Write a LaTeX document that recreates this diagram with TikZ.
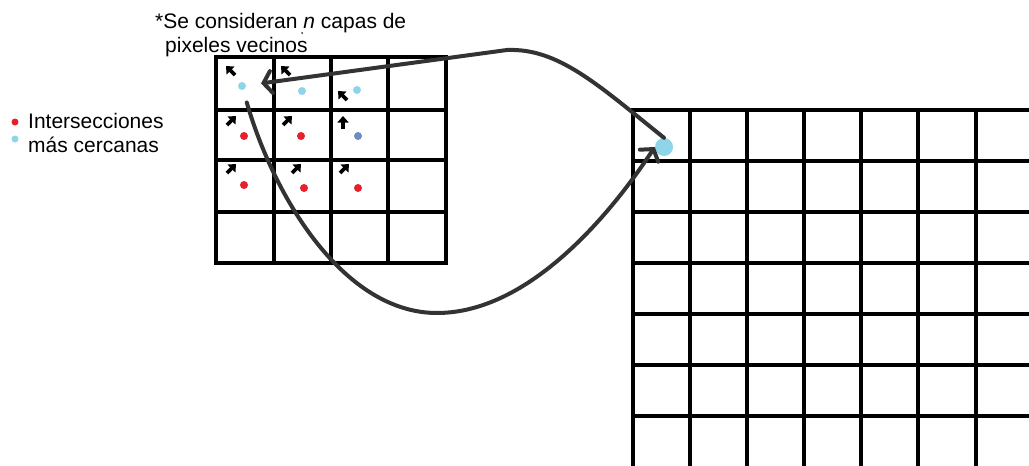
\documentclass[tikz,border=0pt]{standalone}
\usepackage{fontspec}
\setmainfont{Liberation Sans}
\usetikzlibrary{arrows.meta}
\definecolor{dotred}{HTML}{E8202A}
\definecolor{dotcyan}{HTML}{8ED5EA}
\definecolor{dotblue}{HTML}{6B8DC2}
\definecolor{curvegray}{HTML}{333333}
\begin{document}
\begin{tikzpicture}[x=1pt,y=-1pt,
  gridline/.style={line width=4.2pt, line cap=rect},
  curve/.style={draw=curvegray, line width=4pt, line cap=round},
  barbtip/.style={-{Straight Barb[length=8pt,width=22pt,line cap=round]}},
  minarr/.style={line width=3.6pt, -{Triangle[length=6.5pt,width=11pt]}},
  dot/.style={circle, inner sep=0pt, minimum size=8pt},
  lbl/.style={inner sep=0pt, anchor=base west, font=\fontsize{21}{25}\selectfont}]
\useasboundingbox (0,0) rectangle (1029,466);

% left grid
\foreach \x in {216,274,331,388,446} \draw[gridline] (\x,57) -- (\x,263);
\foreach \y in {57,110,160,212,263} \draw[gridline] (216,\y) -- (446,\y);

% right grid
\foreach \x in {633,690,747,804,861,918,976} \draw[gridline] (\x,110) -- (\x,472);
\foreach \y in {110,161,212,263,314,365,416} \draw[gridline] (633,\y) -- (1035,\y);

% dots in left grid
\node[dot, fill=dotcyan] (c00) at (242,86) {};
\node[dot, fill=dotcyan] (c01) at (302,91) {};
\node[dot, fill=dotcyan] (c02) at (357,90) {};
\node[dot, fill=dotred] (r10) at (244,136) {};
\node[dot, fill=dotred] (r11) at (301,136) {};
\node[dot, fill=dotblue] (b12) at (358,136) {};
\node[dot, fill=dotred] (r20) at (244,185) {};
\node[dot, fill=dotred] (r21) at (304,188) {};
\node[dot, fill=dotred] (r22) at (358,188) {};

% small direction arrows
\draw[minarr] (235,75) -- (226,66);
\draw[minarr] (290,75) -- (281,66);
\draw[minarr] (347,100) -- (338,91);
\draw[minarr] (227,125) -- (236,116);
\draw[minarr] (283,125) -- (292,116);
\draw[minarr] (343,129) -- (343,116);
\draw[minarr] (227,173) -- (236,164);
\draw[minarr] (292,173) -- (301,164);
\draw[minarr] (340,173) -- (349,164);

% blob in right grid
\node[circle, fill=dotcyan, inner sep=0pt, minimum width=18pt] (blob) at (664,147) {};

% curves
\draw[curve, barbtip, shorten >=15pt] (blob.north) .. controls (597,84) and (558,48) .. (507,50) -- (c00);
\draw[curve, barbtip, shorten <=13pt] (c00) .. controls (275,200) and (345,313) .. (437,313) .. controls (530,313) and (612,212) .. (blob.west);

% texts
\node[lbl] (t1) at (155,28) {*Se consideran \textit{n} capas de};
\node[lbl] (t2) at (165,52) {pixeles vecinos};
\fill[curvegray] (302,33) circle (1pt);

\node[dot, fill=dotred, minimum size=7pt] (lr) at (15,122) {};
\node[dot, fill=dotcyan, minimum size=7pt] (lc) at (15,139) {};
\node[lbl] (l1) at (28,128) {Intersecciones};
\node[lbl] (l2) at (28,152) {más cercanas};
\end{tikzpicture}
\end{document}
